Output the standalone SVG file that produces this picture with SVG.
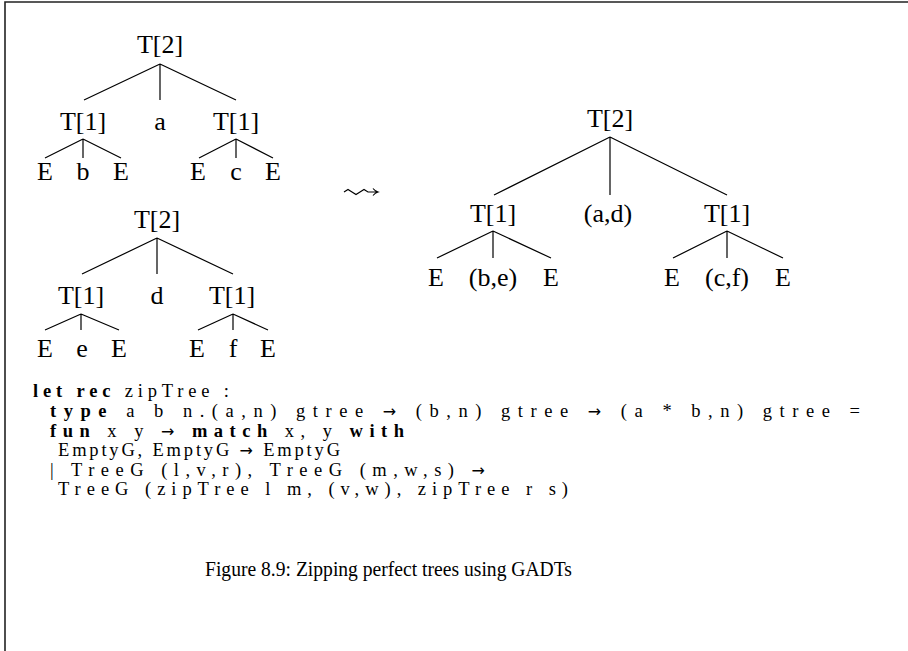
<svg xmlns="http://www.w3.org/2000/svg" width="908" height="651" viewBox="0 0 908 651">
<style>
.n{font-family:"Liberation Serif","DejaVu Serif",serif;font-size:26px;fill:#000;text-anchor:middle}
.c{font-family:"Liberation Serif","DejaVu Serif",serif;font-size:18.5px;fill:#000}
.b{font-weight:bold}
.ar{font-family:"DejaVu Sans",sans-serif;font-size:16px}
.cap{font-family:"Liberation Serif","DejaVu Serif",serif;font-size:21px;fill:#000}
.e{stroke:#000;stroke-width:1.2;fill:none}
.frame{stroke:#222;stroke-width:1.6;fill:none}
</style>
<rect width="908" height="651" fill="#fff"/>
<path class="frame" d="M5,651 V2 H908"/>
<g id="connectors">
<path class="e" d="M160,64 L84,100 M160,64 V100 M160,64 L236,100"/>
<path class="e" d="M83,139 L45,158 M83,139 V158 M83,139 L121,158"/>
<path class="e" d="M236,139 L199,158 M236,139 V158 M236,139 L273,158"/>
<path class="e" d="M157,238 L82,274 M157,238 V274 M157,238 L233,274"/>
<path class="e" d="M81,314 L45,330 M81,314 V330 M81,314 L119,330"/>
<path class="e" d="M233,314 L198,330 M233,314 V330 M233,314 L268,330"/>
<path class="e" d="M610,137 L494,195 M610,137 V195 M610,137 L727,195"/>
<path class="e" d="M493,231 L437,258 M493,231 V258 M493,231 L551,258"/>
<path class="e" d="M727,231 L673,258 M727,231 V258 M727,231 L783,258"/>
</g>
<g id="tree1">
<g id="t1-root"><text class="n" x="160" y="53">T[2]</text></g>
<g id="t1-l"><text class="n" x="83" y="130">T[1]</text></g>
<g id="t1-a"><text class="n" x="160" y="130">a</text></g>
<g id="t1-r"><text class="n" x="236" y="130">T[1]</text></g>
<g id="t1-ll"><text class="n" x="45" y="180">E</text></g>
<g id="t1-lb"><text class="n" x="83" y="180">b</text></g>
<g id="t1-lr"><text class="n" x="121" y="180">E</text></g>
<g id="t1-rl"><text class="n" x="198" y="180">E</text></g>
<g id="t1-rc"><text class="n" x="236" y="180">c</text></g>
<g id="t1-rr"><text class="n" x="273" y="180">E</text></g>
</g>
<g id="tree2">
<g id="t2-root"><text class="n" x="157" y="228">T[2]</text></g>
<g id="t2-l"><text class="n" x="81" y="304">T[1]</text></g>
<g id="t2-d"><text class="n" x="157" y="304">d</text></g>
<g id="t2-r"><text class="n" x="232" y="304">T[1]</text></g>
<g id="t2-ll"><text class="n" x="45" y="357">E</text></g>
<g id="t2-le"><text class="n" x="82" y="357">e</text></g>
<g id="t2-lr"><text class="n" x="119" y="357">E</text></g>
<g id="t2-rl"><text class="n" x="197" y="357">E</text></g>
<g id="t2-rf"><text class="n" x="233" y="357">f</text></g>
<g id="t2-rr"><text class="n" x="268" y="357">E</text></g>
</g>
<g id="arrow">
<path class="e" d="M344,192 L348,189.5 L352,192 L356,194.5 L360,192 L364,189.5 L368,192 H377 M373,188.5 Q375,191 378,192 Q375,193 373,195.5"/>
</g>
<g id="tree3">
<g id="t3-root"><text class="n" x="610" y="127">T[2]</text></g>
<g id="t3-l"><text class="n" x="493" y="222">T[1]</text></g>
<g id="t3-ad"><text class="n" x="608" y="222">(a,d)</text></g>
<g id="t3-r"><text class="n" x="727" y="222">T[1]</text></g>
<g id="t3-ll"><text class="n" x="436" y="286">E</text></g>
<g id="t3-lbe"><text class="n" x="493" y="286">(b,e)</text></g>
<g id="t3-lr"><text class="n" x="551" y="286">E</text></g>
<g id="t3-rl"><text class="n" x="672" y="286">E</text></g>
<g id="t3-rcf"><text class="n" x="727" y="286">(c,f)</text></g>
<g id="t3-rr"><text class="n" x="783" y="286">E</text></g>
</g>
<g id="code">
<text class="c" x="33" y="397" textLength="196" lengthAdjust="spacing"><tspan class="b">let rec</tspan> zipTree :</text>
<text class="c" x="50" y="417" textLength="810" lengthAdjust="spacing"><tspan class="b">type</tspan> a b n.(a,n) gtree <tspan class="ar">→</tspan> (b,n) gtree <tspan class="ar">→</tspan> (a * b,n) gtree =</text>
<text class="c" x="50" y="437" textLength="354" lengthAdjust="spacing"><tspan class="b">fun</tspan> x y <tspan class="ar">→</tspan> <tspan class="b">match</tspan> x, y <tspan class="b">with</tspan></text>
<text class="c" x="58" y="456" textLength="282" lengthAdjust="spacing">EmptyG, EmptyG <tspan class="ar">→</tspan> EmptyG</text>
<text class="c" x="50" y="476" textLength="435" lengthAdjust="spacing">| TreeG (l,v,r), TreeG (m,w,s) <tspan class="ar">→</tspan></text>
<text class="c" x="58" y="495" textLength="510" lengthAdjust="spacing">TreeG (zipTree l m, (v,w), zipTree r s)</text>
</g>
<g id="caption"><text class="cap" x="205" y="576" textLength="367" lengthAdjust="spacingAndGlyphs">Figure 8.9: Zipping perfect trees using GADTs</text></g>
</svg>
